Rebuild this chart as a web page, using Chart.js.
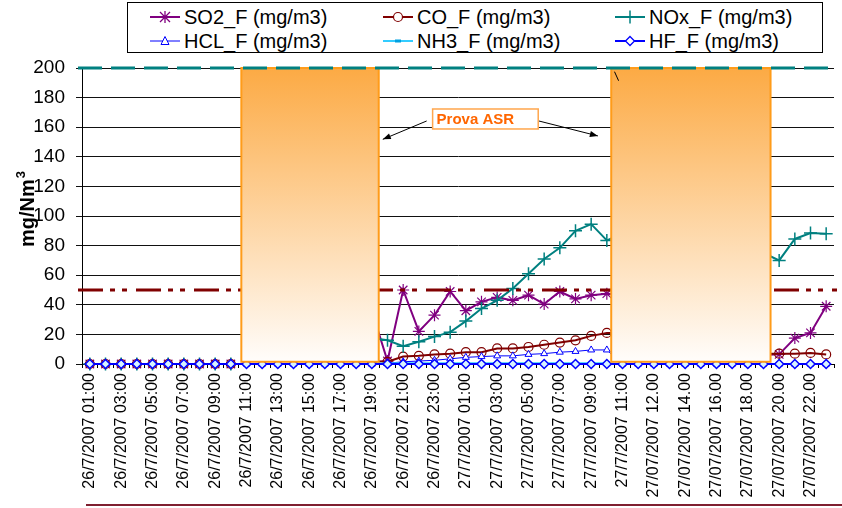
<!DOCTYPE html>
<html>
<head>
<meta charset="utf-8">
<script src="https://cdn.jsdelivr.net/npm/chart.js@4.4.0/dist/chart.umd.min.js"></script>
<style>
  html, body { margin: 0; padding: 0; background: #fff; }
  #wrap { position: relative; width: 842px; height: 508px; overflow: hidden; font-family: Arial, "Liberation Sans", sans-serif; }
  #chart { position: absolute; left: 0; top: 0; }
  #legend { position: absolute; left: 127px; top: 2px; width: 696px; height: 51px; border: 1px solid #000; background: #fff; box-sizing: border-box; }
  .item { position: absolute; display: flex; align-items: center; height: 22px; font-size: 20px; color: #000; white-space: nowrap; }
  .item svg { margin-right: 4px; }
  #bottom-line { position: absolute; left: 86px; top: 504px; width: 756px; height: 2px; background: #7f1f30; }
</style>
</head>
<body>
<div id="wrap">
  <canvas id="chart" width="842" height="508"></canvas>
  <div id="legend"></div>
  <div id="bottom-line"></div>
</div>
<script>
const labels = [
  "26/7/2007 01:00", "26/7/2007 02:00", "26/7/2007 03:00", "26/7/2007 04:00", "26/7/2007 05:00", "26/7/2007 06:00",
  "26/7/2007 07:00", "26/7/2007 08:00", "26/7/2007 09:00", "26/7/2007 10:00", "26/7/2007 11:00", "26/7/2007 12:00",
  "26/7/2007 13:00", "26/7/2007 14:00", "26/7/2007 15:00", "26/7/2007 16:00", "26/7/2007 17:00", "26/7/2007 18:00",
  "26/7/2007 19:00", "26/7/2007 20:00", "26/7/2007 21:00", "26/7/2007 22:00", "26/7/2007 23:00", "27/7/2007 00:00",
  "27/7/2007 01:00", "27/7/2007 02:00", "27/7/2007 03:00", "27/7/2007 04:00", "27/7/2007 05:00", "27/7/2007 06:00",
  "27/7/2007 07:00", "27/7/2007 08:00", "27/7/2007 09:00", "27/7/2007 10:00", "27/7/2007 11:00", "27/07/2007 11.00",
  "27/07/2007 12.00", "27/07/2007 13.00", "27/07/2007 14.00", "27/07/2007 15.00", "27/07/2007 16.00", "27/07/2007 17.00",
  "27/07/2007 18.00", "27/07/2007 19.00", "27/07/2007 20.00", "27/07/2007 21.00", "27/07/2007 22.00", "27/07/2007 23.00"
];

// values hidden behind the "Prova ASR" boxes are left as null
const so2 = [0, 0, 0, 0, 0, 0, 0, 0, 0, 0, null, null, null, null, null, null, null, null, 36, 2,
  50, 22, 33, 49, 36, 42, 45, 43, 46.5, 40.5, 49, 44, 46.5, 47.5, 47, null, null, null, null, null,
  null, null, null, 6, 6.5, 17.5, 21, 39];
const co = [0, 0, 0, 0, 0, 0, 0, 0, 0, 0, null, null, null, null, null, null, null, null, 2, 1.5,
  5, 5.5, 6.5, 7, 8, 8, 10.5, 10.5, 11.5, 13, 14.5, 16, 19, 21, 21, null, null, null, null, null,
  null, null, null, 7, 7, 7, 7.5, 6.5];
const nox = [0, 0, 0, 0, 0, 0, 0, 0, 0, 0, null, null, null, null, null, null, null, null, 17.5, 16,
  12, 15, 18.5, 21.5, 29, 37.5, 43, 51, 61, 71, 78.5, 90, 94.5, 83.5, 88, null, null, null, null, null,
  null, null, null, 75, 70, 84.5, 88.5, 88];
const hcl = [0, 0, 0, 0, 0, 0, 0, 0, 0, 0, 0, 0, 0, 0, 0, 0, 0, 0, 0, 0.5,
  1.5, 2, 2.5, 3.5, 4.5, 5, 5.5, 5.5, 6.5, 7, 8, 8.5, 9.5, 9.5, 0, 0, 0, 0, 0, 0,
  0, 0, 0, 0, 0, 0, 0, 0];
const nh3 = [0, 0, 0, 0, 0, 0, 0, 0, 0, 0, 0, 0, 0, 0, 0, 0, 0, 0, 0, 0.5,
  0.5, 0.5, 0.5, 0.5, 0.5, 0.5, 0.5, 0.5, 0.5, 0.5, 0.5, 0.5, 0.5, 0.5, 0, 0, 0, 0, 0, 0,
  0, 0, 0, 0, 0, 0, 0, 0];
const hf = [0, 0, 0, 0, 0, 0, 0, 0, 0, 0, 0, 0, 0, 0, 0, 0, 0, 0, 0, 0,
  0, 0, 0, 0, 0, 0, 0, 0, 0, 0, 0, 0, 0, 0, 0, 0, 0, 0, 0, 0,
  0, 0, 0, 0, 0, 0, 0, 0];

const yTicks = [0, 20, 40, 60, 80, 100, 120, 140, 160, 180, 200];
const limitHigh = 200;
const limitLow = 50;
// test windows in category units: [from, to, bottom value]
const testWindows = [[9.67, 18.44, 1.5], [33.28, 43.45, 1.5]];
const testLabel = "Prova ASR";

const series = [
  { label: "SO2_F (mg/m3)", data: so2, color: "#800080", width: 2, style: "star", radius: 6, fill: "rgba(0,0,0,0)", pw: 1.2 },
  { label: "CO_F (mg/m3)", data: co, color: "#800000", width: 2, style: "circle", radius: 4.5, fill: "rgba(0,0,0,0)", pw: 1.2 },
  { label: "NOx_F (mg/m3)", data: nox, color: "#008080", width: 2, style: "cross", radius: 6.5, fill: "rgba(0,0,0,0)", pw: 1.5 },
  { label: "HCL_F (mg/m3)", data: hcl, color: "#0000ff", width: 1, style: "triangle", radius: 4, fill: "#ffffff", pw: 1 },
  { label: "NH3_F (mg/m3)", data: nh3, color: "#33ccff", width: 2, style: "line", radius: 3, fill: "#00a0e0", pw: 3 },
  { label: "HF_F (mg/m3)", data: hf, color: "#0000ff", width: 2, style: "rectRot", radius: 4.5, fill: "#d8f4ff", pw: 1.5 }
];

const font = "Arial, 'Liberation Sans', sans-serif";

function arrow(ctx, x0, y0, x1, y1) {
  const a = Math.atan2(y1 - y0, x1 - x0);
  ctx.beginPath();
  ctx.moveTo(x0, y0);
  ctx.lineTo(x1, y1);
  ctx.stroke();
  ctx.beginPath();
  ctx.moveTo(x1, y1);
  ctx.lineTo(x1 - 8 * Math.cos(a) + 3 * Math.sin(a), y1 - 8 * Math.sin(a) - 3 * Math.cos(a));
  ctx.lineTo(x1 - 8 * Math.cos(a) - 3 * Math.sin(a), y1 - 8 * Math.sin(a) + 3 * Math.cos(a));
  ctx.closePath();
  ctx.fill();
}

const overlays = {
  id: "overlays",
  afterDatasetsDraw(chart) {
    const { ctx, chartArea: a, scales: { x, y } } = chart;
    ctx.save();

    // lower limit, dash-dot-dot
    const yLow = y.getPixelForValue(limitLow);
    ctx.strokeStyle = "#800000";
    ctx.lineWidth = 3;
    ctx.setLineDash([25, 7, 5, 7, 5, 9]);
    ctx.beginPath();
    ctx.moveTo(a.left - 4, yLow);
    ctx.lineTo(a.right + 3, yLow);
    ctx.stroke();
    ctx.setLineDash([]);

    // test windows
    testWindows.forEach(w => {
      const x0 = x.getPixelForValue(w[0]);
      const x1 = x.getPixelForValue(w[1]);
      const yt = y.getPixelForValue(limitHigh);
      const yb = y.getPixelForValue(w[2]);
      const g = ctx.createLinearGradient(0, yt, 0, yb);
      g.addColorStop(0, "rgb(252,170,68)");
      g.addColorStop(1, "rgb(255,253,251)");
      ctx.fillStyle = g;
      ctx.fillRect(x0, yt, x1 - x0, yb - yt);
      ctx.strokeStyle = "#ff9c1a";
      ctx.lineWidth = 2;
      ctx.strokeRect(x0, yt, x1 - x0, yb - yt);
    });

    // upper limit, dashed
    const yHigh = y.getPixelForValue(limitHigh);
    ctx.strokeStyle = "#008080";
    ctx.lineWidth = 3;
    ctx.setLineDash([24, 9]);
    ctx.beginPath();
    ctx.moveTo(a.left - 4, yHigh);
    ctx.lineTo(a.right + 3, yHigh);
    ctx.stroke();
    ctx.setLineDash([]);

    // arrows to the two windows
    ctx.strokeStyle = "#000";
    ctx.fillStyle = "#000";
    ctx.lineWidth = 1;
    arrow(ctx, x.getPixelForValue(21.5), y.getPixelForValue(164.2), x.getPixelForValue(18.7), y.getPixelForValue(151.8));
    arrow(ctx, x.getPixelForValue(28.66), y.getPixelForValue(164.2), x.getPixelForValue(32.43), y.getPixelForValue(154.1));
    ctx.beginPath();
    ctx.moveTo(x.getPixelForValue(33.49), y.getPixelForValue(197.5));
    ctx.lineTo(x.getPixelForValue(33.75), y.getPixelForValue(191.4));
    ctx.stroke();

    // label box
    const bx0 = x.getPixelForValue(21.88), bx1 = x.getPixelForValue(28.62);
    const by0 = y.getPixelForValue(172.3), by1 = y.getPixelForValue(158.8);
    ctx.fillStyle = "#fff";
    ctx.fillRect(bx0, by0, bx1 - bx0, by1 - by0);
    ctx.strokeStyle = "#ffa64d";
    ctx.lineWidth = 1.5;
    ctx.strokeRect(bx0, by0, bx1 - bx0, by1 - by0);
    ctx.fillStyle = "#ff6600";
    ctx.font = "bold 15px " + font;
    ctx.textAlign = "left";
    ctx.textBaseline = "middle";
    ctx.fillText(testLabel, bx0 + 4, (by0 + by1) / 2 + 1);

    // y axis title with superscript
    const cy = (a.top + a.bottom) / 2 + 31;
    ctx.translate(34, cy);
    ctx.rotate(-Math.PI / 2);
    ctx.fillStyle = "#000";
    ctx.textBaseline = "alphabetic";
    ctx.font = "bold 20px " + font;
    ctx.fillText("mg/Nm", 0, 0);
    const w = ctx.measureText("mg/Nm").width;
    ctx.font = "bold 13px " + font;
    ctx.fillText("3", w + 1, -9);
    ctx.restore();
  }
};

new Chart(document.getElementById("chart"), {
  type: "line",
  data: {
    labels: labels,
    datasets: series.map((s, i) => ({
      label: s.label,
      data: s.data,
      borderColor: s.color,
      borderWidth: s.width,
      backgroundColor: s.color,
      pointStyle: s.style,
      pointRadius: s.radius,
      pointBorderColor: s.style === "line" ? s.fill : s.color,
      pointBackgroundColor: s.fill,
      pointBorderWidth: s.pw,
      tension: 0,
      clip: false,
      order: series.length - i
    }))
  },
  options: {
    responsive: false,
    animation: false,
    events: [],
    layout: { padding: { top: 68, right: 2, left: 0, bottom: 0 } },
    plugins: {
      legend: { display: false },
      tooltip: { enabled: false }
    },
    scales: {
      x: {
        offset: true,
        afterFit: s => { s.height = 144; s.paddingLeft = 0; s.paddingRight = 0; },
        grid: { display: true, drawOnChartArea: false, drawTicks: true, tickLength: 4, offset: true, color: "#000" },
        border: { color: "#000", width: 1 },
        ticks: {
          autoSkip: false,
          minRotation: 90,
          maxRotation: 90,
          padding: 5,
          color: "#000",
          font: { family: font, size: 16 },
          callback: (v, i) => (i % 2 === 0 ? labels[i] : "")
        }
      },
      y: {
        min: 0,
        max: 200,
        afterFit: s => { s.width = 82; s.paddingTop = 0; s.paddingBottom = 0; },
        afterBuildTicks: s => { s.ticks = yTicks.map(v => ({ value: v })); },
        grid: { color: "#111", tickLength: 6, drawTicks: true },
        border: { color: "#000", width: 1 },
        ticks: { padding: 11, color: "#000", font: { family: font, size: 19 } }
      }
    }
  },
  plugins: [overlays]
});

// legend: three columns, two rows
function symbol(s) {
  const c = s.color;
  let m = "";
  if (s.style === "star") {
    m = `<path d="M15 2V14M10 3L20 13M20 3L10 13" stroke="${c}" stroke-width="1.3"/>`;
  } else if (s.style === "circle") {
    m = `<circle cx="15" cy="8" r="4.5" fill="#fff" stroke="${c}" stroke-width="1.2"/>`;
  } else if (s.style === "cross") {
    m = `<path d="M15 1.5V14.5" stroke="${c}" stroke-width="1.5"/>`;
  } else if (s.style === "triangle") {
    m = `<path d="M15 3.5L19 11.5H11Z" fill="#fff" stroke="${c}" stroke-width="1"/>`;
  } else if (s.style === "line") {
    m = `<path d="M12 8H18" stroke="${s.fill}" stroke-width="3"/>`;
  } else {
    m = `<path d="M15 3.5L19.5 8L15 12.5L10.5 8Z" fill="#fff" stroke="${c}" stroke-width="1.3"/>`;
  }
  return `<svg width="30" height="16"><path d="M0 8H30" stroke="${c}" stroke-width="${s.width === 1 ? 1 : 2}"/>${m}</svg>`;
}

const legendCols = [22, 255, 487];
const legendRows = [3, 27];
const legendEl = document.getElementById("legend");
series.forEach((s, i) => {
  const d = document.createElement("div");
  d.className = "item";
  d.style.left = legendCols[i % 3] + "px";
  d.style.top = legendRows[Math.floor(i / 3)] + "px";
  d.innerHTML = symbol(s) + "<span>" + s.label + "</span>";
  legendEl.appendChild(d);
});
</script>
</body>
</html>
